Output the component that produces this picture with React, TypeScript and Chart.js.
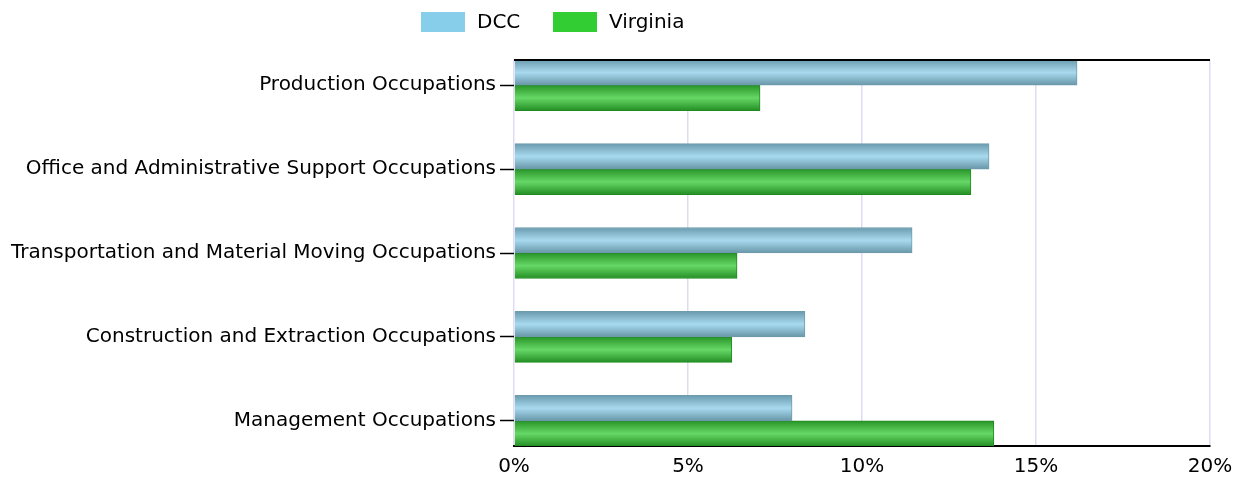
import React, { useEffect, useRef } from "react";
import { Chart, registerables, CategoryScale } from "chart.js";

Chart.register(...registerables);

class PaddedCategoryScale extends CategoryScale {
  static id = "paddedCategory";
  static defaults = CategoryScale.defaults;
  configure() {
    super.configure();
    const pad = 0.3;
    (this as any)._startValue = this.min - pad;
    (this as any)._valueRange = this.max - this.min + 2 * pad;
  }
}
Chart.register(PaddedCategoryScale);

const categories = [
  "Production Occupations",
  "Office and Administrative Support Occupations",
  "Transportation and Material Moving Occupations",
  "Construction and Extraction Occupations",
  "Management Occupations",
];
const dccValues = [16.18, 13.65, 11.44, 8.36, 7.99];
const virginiaValues = [7.07, 13.13, 6.41, 6.26, 13.79];
const xTicks = [0, 5, 10, 15, 20];

const FONT = "'DejaVu Sans', sans-serif";
const FONT_SIZE = 20;

const gradientPlugin = {
  id: "barGradients",
  beforeDatasetsDraw(chart: any) {
    const ctx = chart.ctx;
    chart.data.datasets.forEach((ds: any, di: number) => {
      const meta = chart.getDatasetMeta(di);
      meta.data.forEach((el: any) => {
        const top = el.y - el.height / 2;
        const bottom = el.y + el.height / 2;
        const g = ctx.createLinearGradient(0, top, 0, bottom);
        if (di === 0) {
          g.addColorStop(0, "#6a9aad");
          g.addColorStop(0.5, "#a8daef");
          g.addColorStop(1, "#6796a7");
        } else {
          g.addColorStop(0, "#289428");
          g.addColorStop(0.5, "#66d866");
          g.addColorStop(1, "#248e24");
        }
        el.options = Object.assign({}, el.options, { backgroundColor: g });
      });
    });
  },
  afterDraw(chart: any) {
    const { ctx, chartArea } = chart;
    ctx.save();
    ctx.strokeStyle = "#000";
    ctx.lineWidth = 2;
    ctx.beginPath();
    ctx.moveTo(chartArea.left, chartArea.top);
    ctx.lineTo(chartArea.right, chartArea.top);
    ctx.stroke();
    ctx.restore();
  },
};

export default function App() {
  const ref = useRef<HTMLCanvasElement>(null);
  useEffect(() => {
    const chart = new Chart(ref.current!, {
      type: "bar",
      data: {
        labels: categories,
        datasets: [
          {
            label: "DCC",
            data: dccValues,
            backgroundColor: "#87ceeb",
            borderColor: "#6f9cac",
            borderWidth: 1,
            barThickness: 25.5,
          },
          {
            label: "Virginia",
            data: virginiaValues,
            backgroundColor: "#32cd32",
            borderColor: "#1f8a1f",
            borderWidth: 1,
            barThickness: 25.5,
          },
        ],
      },
      options: {
        indexAxis: "y",
        animation: false,
        responsive: true,
        maintainAspectRatio: false,
        layout: { padding: { left: 0, right: 36, top: 60, bottom: 0 } },
        plugins: {
          legend: { display: false },
          tooltip: { enabled: false },
        },
        scales: {
          x: {
            type: "linear",
            min: 0,
            max: 20,
            afterBuildTicks: (scale: any) => {
              scale.ticks = xTicks.map((v) => ({ value: v }));
            },
            afterFit: (scale: any) => {
              scale.height = 31;
            },
            ticks: {
              color: "#000",
              font: { family: FONT, size: FONT_SIZE },
              padding: 9,
              callback: (v: any) => v + "%",
              maxRotation: 0,
            },
            grid: {
              color: "#dfdbf1",
              lineWidth: 1.5,
              drawTicks: false,
            },
            border: { display: true, color: "#000", width: 2 },
          },
          y: {
            type: "paddedCategory" as any,
            offset: false,
            afterFit: (scale: any) => {
              scale.width = 514;
            },
            ticks: {
              color: "#000",
              font: { family: FONT, size: FONT_SIZE },
              padding: 4,
            },
            grid: {
              offset: false,
              drawOnChartArea: false,
              drawTicks: true,
              tickLength: 14,
              tickColor: "#000",
              tickWidth: 1.5,
            },
            border: { display: false },
          },
        },
      },
      plugins: [gradientPlugin],
    });
    return () => chart.destroy();
  }, []);

  const legendItem = (color: string, label: string, left: number) => (
    <div
      style={{
        position: "absolute",
        left,
        top: 10,
        display: "flex",
        alignItems: "center",
        fontFamily: FONT,
        fontSize: FONT_SIZE,
        lineHeight: "24px",
        color: "#000",
      }}
    >
      <div style={{ width: 44, height: 20, background: color, marginRight: 12 }} />
      <span style={{ position: "relative", top: -1 }}>{label}</span>
    </div>
  );

  return (
    <div style={{ position: "fixed", left: 0, top: 0, width: 1246, height: 477, background: "#fff" }}>
      <canvas ref={ref} />
      {legendItem("#87ceeb", "DCC", 421)}
      {legendItem("#32cd32", "Virginia", 553)}
    </div>
  );
}
